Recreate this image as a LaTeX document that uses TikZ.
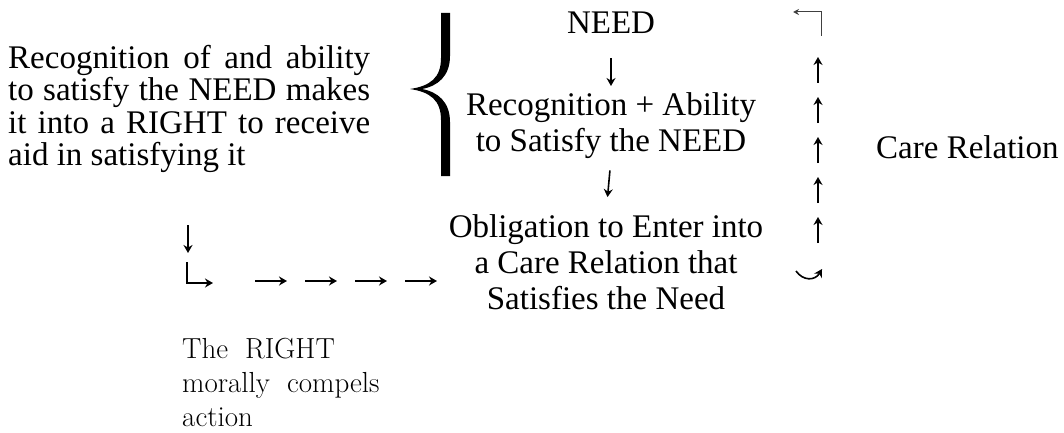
\documentclass[tikz,border=0pt]{standalone}
\usepackage{fontspec}
\newfontfamily\timesfont{Liberation Serif}
\usepackage{tikz}
\usetikzlibrary{
  positioning,
  calc,
  arrows.meta
}
\tikzstyle{flow}=[-{Stealth[length=8pt,width=9pt]}, line width=1.6pt]
\tikzstyle{txt}=[inner sep=0pt, font=\timesfont\fontsize{33}{36}\selectfont]

\begin{document}
\begin{tikzpicture}[x=1pt, y=-1pt]
    \useasboundingbox (0,0) rectangle (1064,433);
    \def\colx{611};
    \def\pitch{40};

    % 左の説明文
    \node[txt, anchor=north west] (claim) at (8,45)
        {\parbox[t]{362pt}{\fontsize{33}{32.5}\selectfont\tolerance=10000\hyphenpenalty=10000
         Recognition of and ability to satisfy the NEED makes it into a RIGHT to receive aid in satisfying it}};

    % 中括弧
    \fill (441,13) -- (441,58) .. controls (441,78) and (430,86) .. (410,89)
          .. controls (430,92) and (441,100) .. (441,120) -- (441,176)
          -- (450,176) -- (450,122) .. controls (450,102) and (438,92) .. (422,89)
          .. controls (438,86) and (450,76) .. (450,56) -- (450,13) -- cycle;

    % 中央の流れ
    \node[txt, anchor=north] (need) at (\colx,12) {NEED};
    \node[txt, anchor=north, align=center] (recog) at (\colx,92) {Recognition + Ability\\to Satisfy the NEED};
    \node[txt, anchor=north, align=center] (oblig) at (606,214) {Obligation to Enter into\\a Care Relation that\\Satisfies the Need};
    \draw[flow, shorten <=24pt, shorten >=6pt] (need.south) -- (recog.north);
    \draw[flow, shorten <=12pt, shorten >=17pt] (recog.south) -- (oblig.north);

    % 右の循環
    \node[txt, anchor=base west] (care) at (876,158) {Care Relation};
    \coordinate (looptop) at (821,12);
    \coordinate (loopbot) at (818,243);
    \draw[-{Stealth[length=6pt,width=6pt]}, line width=1pt, black!75]
        ($(looptop)+(0,24)$) -- (looptop) -- ++(-28,0);
    \foreach \i in {0,...,4}
        \draw[flow] ($(loopbot)+(0,-\i*\pitch)$) -- ++(0,-26);
    \draw[flow] (796,271) .. controls (803,281) and (815,281) .. (822,269);

    % 左下の流れ
    \coordinate (rightdown) at (188,225);
    \coordinate (rightcorner) at (187,283);
    \draw[flow] (rightdown) -- ++(0,28);
    \draw[flow] ($(rightcorner)+(0,-21)$) -- (rightcorner) -- ++(26,0);
    \foreach \x in {255,305,355,405}
        \draw[flow] (\x,281) -- ++(32,0);

    % 権利の注記
    \node[inner sep=0pt, anchor=north west, align=left, font=\fontsize{29}{34}\selectfont]
        (compel) at (182,338) {The\hspace{17pt}RIGHT\\morally\hspace{17pt}compels\\action};
\end{tikzpicture}
\end{document}
